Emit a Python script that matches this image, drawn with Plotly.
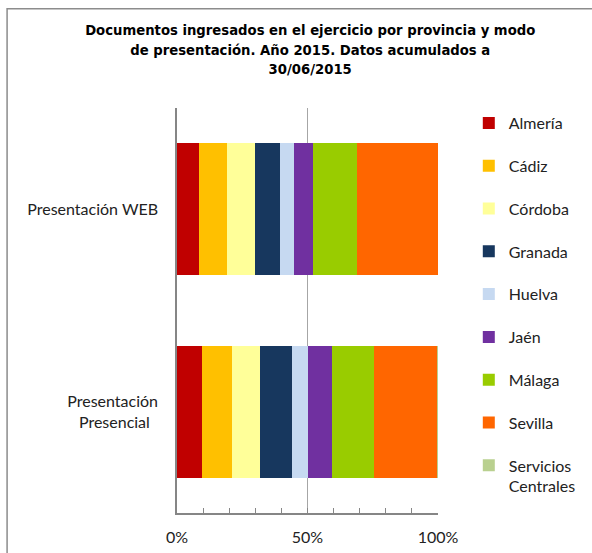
import plotly.graph_objects as go

categories = ["Presentación WEB", "Presentación<br>Presencial\u00a0\u00a0"]
provinces = ["Almería", "Cádiz", "Córdoba", "Granada", "Huelva", "Jaén",
             "Málaga", "Sevilla", "Servicios<br>Centrales"]
colors = ["#C00000", "#FFC000", "#FFFF99", "#17375E", "#C6D9F1", "#7030A0",
          "#99CC00", "#FF6600", "#B9D08F"]
# shares (%) per province: [WEB, Presencial]
web_values = [8.4, 10.7, 10.8, 9.5, 5.4, 7.2, 17.0, 31.0, 0.0]
presencial_values = [9.6, 11.5, 10.8, 12.1, 6.1, 9.2, 16.0, 24.4, 0.3]

fig = go.Figure()
for i, name in enumerate(provinces):
    fig.add_trace(go.Bar(
        y=categories,
        x=[web_values[i] / 100, presencial_values[i] / 100],
        name=name,
        orientation="h",
        marker=dict(color=colors[i], line=dict(width=0)),
        legendgroup=name,
    ))

fig.update_layout(
    barmode="stack",
    bargap=0.35,
    width=592, height=553,
    margin=dict(l=177, r=154, t=108, b=40, autoexpand=False),
    paper_bgcolor="white",
    plot_bgcolor="white",
    font=dict(family="Lato, Open Sans, sans-serif", size=16, color="#222222"),
    title=dict(
        text="<b>Documentos ingresados en el ejercicio por provincia y modo<br>"
             "de presentación. Año 2015. Datos acumulados a<br>30/06/2015</b>",
        x=0.524, xanchor="center",
        y=0.936, yanchor="top",
        font=dict(family="Liberation Sans Narrow, DejaVu Sans Condensed, sans-serif",
                  size=14.7, color="#000000"),
    ),
    legend=dict(
        x=1.118, xanchor="left",
        y=1.005, yanchor="top",
        traceorder="grouped",
        tracegroupgap=19,
        font=dict(size=16, color="#222222"),
        bgcolor="rgba(0,0,0,0)",
        itemwidth=30,
        maxheight=700,
        valign="top",
    ),
    showlegend=True,
)

fig.update_xaxes(
    range=[0, 1],
    tickformat=".0%",
    tickvals=[0, 0.5, 1],
    showgrid=True,
    gridcolor="#A6A6A6",
    gridwidth=1,
    showline=True,
    linecolor="#868686",
    linewidth=1.5,
    ticks="inside",
    ticklen=5,
    tickcolor="#868686",
    minor=dict(dtick=0.1, ticks="inside", ticklen=5, tickcolor="#868686", showgrid=False),
    ticklabelstandoff=9,
    zeroline=False,
    fixedrange=True,
)
fig.update_yaxes(
    autorange="reversed",
    showline=True,
    linecolor="#868686",
    linewidth=1.5,
    ticks="",
    showgrid=False,
    ticklabelstandoff=14,
)

# Outer chart border
fig.add_shape(type="rect", xref="paper", yref="paper",
              x0=-0.651, x1=1.8, y0=-0.4, y1=1.245,
              line=dict(color="#8C8C8C", width=1.5), fillcolor="rgba(0,0,0,0)",
              layer="below")

fig.write_html("out.html", config={"displayModeBar": False},
               post_script="document.body.style.margin='0';")
